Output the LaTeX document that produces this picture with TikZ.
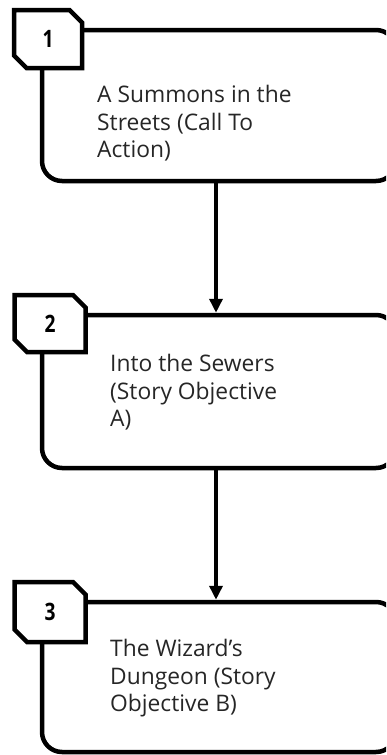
\documentclass[tikz,border=0pt]{standalone}
\usepackage{fontspec}
\usepackage{graphicx}
\setmainfont{Open Sans}
\usetikzlibrary{shapes.misc,arrows.meta}
\newcommand{\numtext}[1]{\scalebox{0.8}[1]{#1}}
\tikzset{
  stage/.style={draw=black, line width=4.5pt, rounded corners=20pt, fill=white,
    minimum width=354pt, inner sep=0pt},
  badge/.style={draw=black, line width=4.5pt, fill=white, chamfered rectangle,
    chamfered rectangle corners={north east,south west}, chamfered rectangle xsep=7pt,
    chamfered rectangle ysep=7pt, inner sep=0pt, font=\fontsize{24}{24}\selectfont\bfseries},
  label/.style={anchor=north west, align=left, inner sep=0pt, text=black!85,
    font=\fontsize{22.8}{27.5}\selectfont},
  flow/.style={line width=4pt, -{Triangle[length=14pt,width=13pt]}}
}
\begin{document}
\begin{tikzpicture}[x=1pt,y=-1pt]
\useasboundingbox (0,0) rectangle (386,755);
\clip (0,0) rectangle (386,755);
% boxes
\node[stage, minimum height=151pt] (b1) at (219,105.5) {};
\node[stage, minimum height=153pt] (b2) at (219,391.5) {};
\node[stage, minimum height=150pt] (b3) at (219,677) {};
% badges
\node[badge, minimum width=68pt, minimum height=58pt] (n1) at (48,39) {\numtext{1}};
\node[badge, minimum width=71pt, minimum height=57pt] (n2) at (50,323.5) {\numtext{2}};
\node[badge, minimum width=71pt, minimum height=60pt] (n3) at (50,612) {\numtext{3}};
% texts
\node[label] (t1) at (97,85) {A Summons in the\\Streets (Call To\\Action)};
\node[label] (t2) at (110,354) {Into the Sewers\\(Story Objective\\A)};
\node[label] (t3) at (110,639) {The Wizard's\\Dungeon (Story\\Objective B)};
% connectors
\draw[flow] (b1.south -| 216,0) -- (b2.north -| 216,0);
\draw[flow] (b2.south -| 216,0) -- (b3.north -| 216,0);
\end{tikzpicture}
\end{document}
